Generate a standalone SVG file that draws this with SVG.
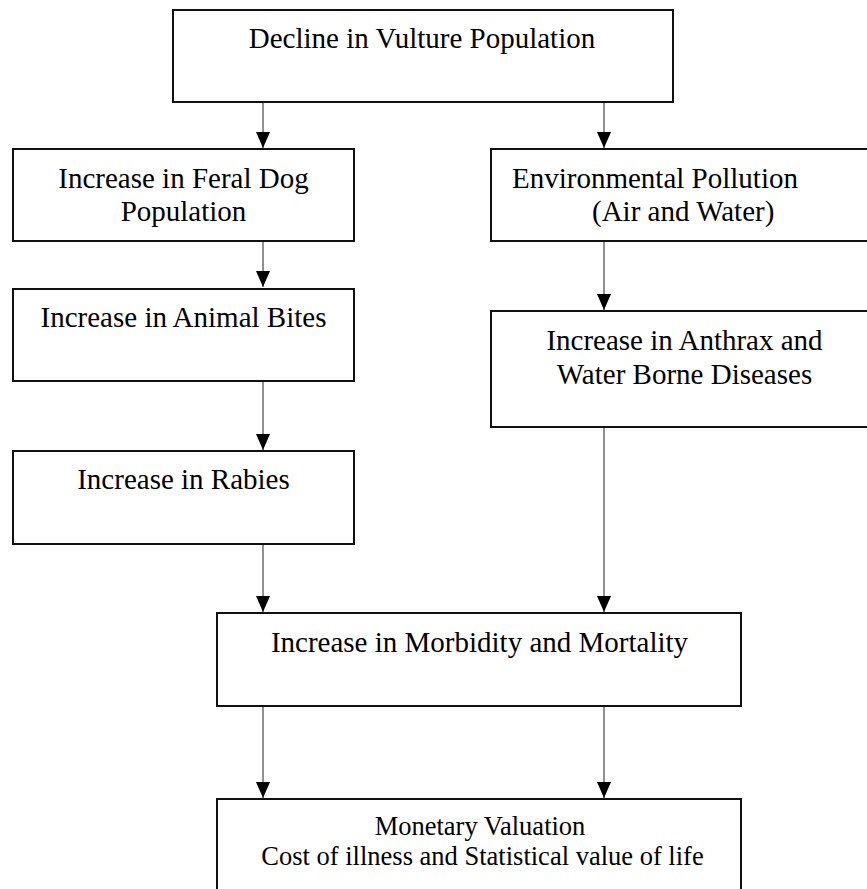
<svg xmlns="http://www.w3.org/2000/svg" width="867" height="889" viewBox="0 0 867 889">
<style>
.box{fill:#fff;stroke:#111;stroke-width:2}
.t{font-family:"Liberation Serif","Times New Roman",serif;font-size:29px;fill:#000}
.s{font-size:26.5px}
.c{stroke:#222;stroke-width:1;fill:none}
</style>
<defs>
<marker id="ah" viewBox="0 0 16 14" refX="16" refY="7" markerWidth="16" markerHeight="14" markerUnits="userSpaceOnUse" orient="auto">
<path d="M0,0 L16,7 L0,14 Z" fill="#000"/>
</marker>
</defs>
<rect width="867" height="889" fill="#fff"/>
<g id="connectors">
<line class="c" x1="263" y1="102" x2="263" y2="148" marker-end="url(#ah)"/>
<line class="c" x1="604" y1="102" x2="604" y2="148" marker-end="url(#ah)"/>
<line class="c" x1="263" y1="241" x2="263" y2="287" marker-end="url(#ah)"/>
<line class="c" x1="604" y1="241" x2="604" y2="310" marker-end="url(#ah)"/>
<line class="c" x1="263" y1="381" x2="263" y2="450" marker-end="url(#ah)"/>
<line class="c" x1="263" y1="544" x2="263" y2="612" marker-end="url(#ah)"/>
<line class="c" x1="604" y1="427" x2="604" y2="612" marker-end="url(#ah)"/>
<line class="c" x1="263" y1="706" x2="263" y2="798" marker-end="url(#ah)"/>
<line class="c" x1="604" y1="706" x2="604" y2="798" marker-end="url(#ah)"/>
</g>
<g id="n1">
<rect class="box" x="173" y="10" width="500" height="92"/>
<text class="t" x="422" y="48" text-anchor="middle">Decline in Vulture Population</text>
</g>
<g id="n2">
<rect class="box" x="13" y="149" width="341" height="92"/>
<text class="t" x="183.5" y="188" text-anchor="middle">Increase in Feral Dog</text>
<text class="t" x="183.5" y="221" text-anchor="middle">Population</text>
</g>
<g id="n3">
<rect class="box" x="491" y="149" width="400" height="92"/>
<text class="t" x="512" y="188">Environmental Pollution</text>
<text class="t" x="592" y="221">(Air and Water)</text>
</g>
<g id="n4">
<rect class="box" x="13" y="289" width="341" height="92"/>
<text class="t" x="183.5" y="327" text-anchor="middle">Increase in Animal Bites</text>
</g>
<g id="n5">
<rect class="box" x="491" y="311" width="400" height="116"/>
<text class="t" x="684.5" y="350" text-anchor="middle">Increase in Anthrax and</text>
<text class="t" x="684.5" y="384" text-anchor="middle">Water Borne Diseases</text>
</g>
<g id="n6">
<rect class="box" x="13" y="451" width="341" height="93"/>
<text class="t" x="183.5" y="489" text-anchor="middle">Increase in Rabies</text>
</g>
<g id="n7">
<rect class="box" x="217" y="613" width="524" height="93"/>
<text class="t" x="479.5" y="652" text-anchor="middle">Increase in Morbidity and Mortality</text>
</g>
<g id="n8">
<rect class="box" x="217" y="799" width="524" height="120"/>
<text class="t s" x="480" y="835" text-anchor="middle">Monetary Valuation</text>
<text class="t s" x="482.5" y="865" text-anchor="middle">Cost of illness and Statistical value of life</text>
</g>
</svg>
